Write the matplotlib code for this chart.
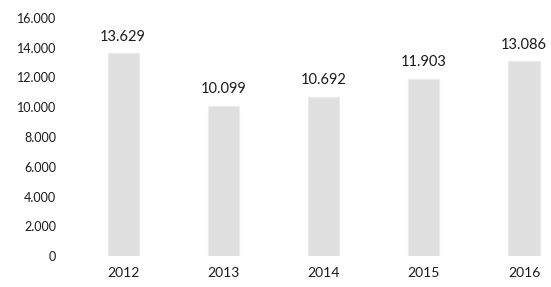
import matplotlib
matplotlib.use("Agg")
import matplotlib.pyplot as plt
from matplotlib.ticker import FuncFormatter

years = ["2012", "2013", "2014", "2015", "2016"]
values = [13629, 10099, 10692, 11903, 13086]
yticks = [0, 2000, 4000, 6000, 8000, 10000, 12000, 14000, 16000]

plt.rcParams["font.family"] = ["Lato", "DejaVu Sans"]


def dot_thousands(v, pos=None):
    return f"{int(round(v)):,}".replace(",", ".")


W, H = 551, 287
fig = plt.figure(figsize=(W / 100, H / 100), dpi=100)
ax = fig.add_axes([73 / W, 31 / H, (545 - 73) / W, 238 / H])

x = range(len(years))
ax.bar(x, values, width=0.31, color="#dfdfdf", edgecolor="#ebebeb", linewidth=0.8)

for xi, v in zip(x, values):
    ax.annotate(dot_thousands(v), (xi, v), xytext=(0, 7), textcoords="offset points",
                ha="center", va="bottom", fontsize=10.5, color="#1a1a1a")

ax.set_xlim(-0.5, (545 - 123) / 100.25)
ax.set_ylim(0, 16000)
ax.set_yticks(yticks)
ax.yaxis.set_major_formatter(FuncFormatter(dot_thousands))
ax.set_xticks(list(x))
ax.set_xticklabels(years)
ax.tick_params(length=0, colors="#1a1a1a")
ax.tick_params(axis="y", pad=12, labelsize=9)
ax.tick_params(axis="x", pad=8, labelsize=10)
for s in ax.spines.values():
    s.set_visible(False)

fig.savefig("out.png", dpi=100, facecolor="white")
